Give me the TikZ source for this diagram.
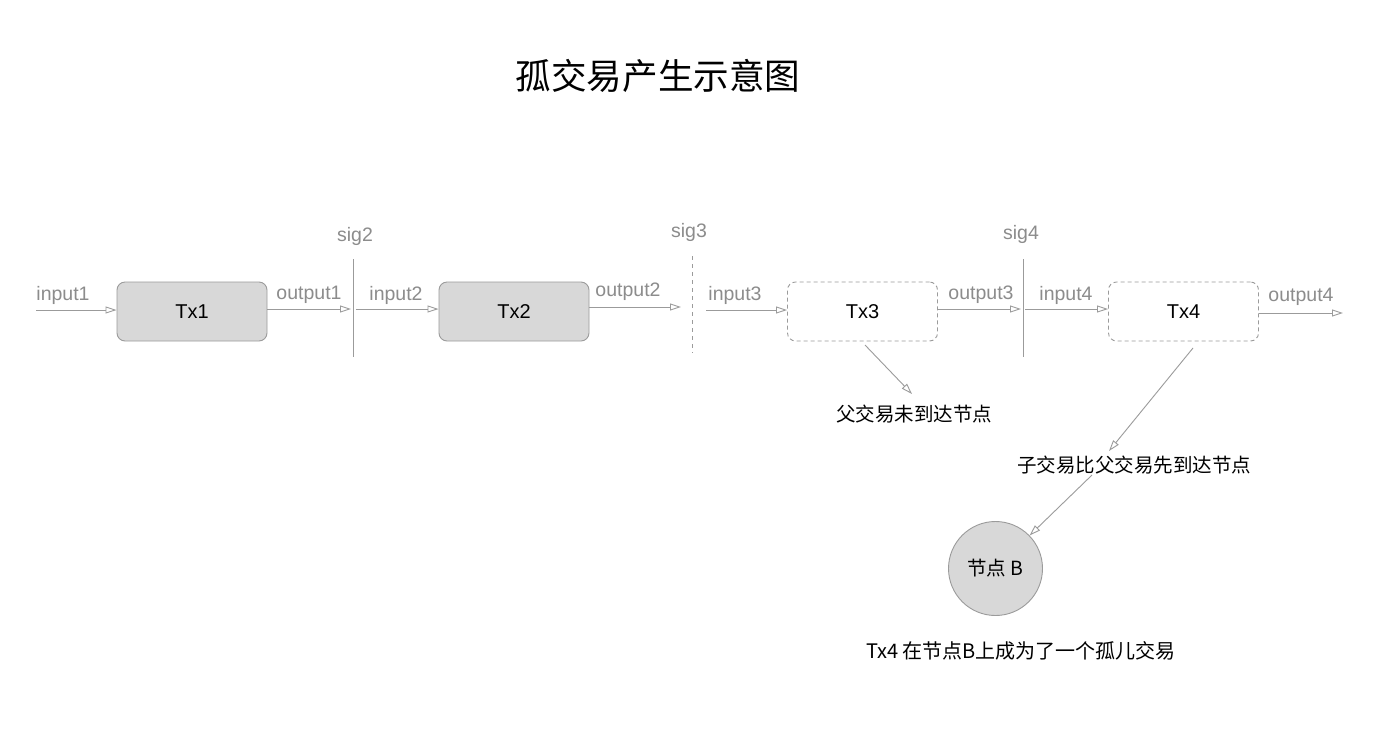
\documentclass[tikz,border=0pt]{standalone}
\usepackage{fontspec}
\setmainfont{Liberation Sans}
\newfontfamily\cjk{Noto Sans CJK SC}
\usetikzlibrary{arrows.meta}
\definecolor{linegray}{HTML}{9B9B9B}
\definecolor{textgray}{HTML}{8C8C8C}
\definecolor{boxfill}{HTML}{D8D8D8}
\begin{document}
\begin{tikzpicture}[x=1pt,y=-1pt,
  txbox/.style={draw=linegray, line width=0.9pt, rounded corners=8pt, minimum width=150pt, minimum height=59pt, inner sep=0pt, font=\fontsize{20}{24}\selectfont},
  solidbox/.style={txbox, fill=boxfill},
  dashbox/.style={txbox, fill=white, dash pattern=on 4pt off 3pt},
  lbl/.style={text=textgray, inner sep=0pt, font=\fontsize{19.5}{23}\selectfont},
  cjklbl/.style={text=black, inner sep=0pt, font=\cjk\fontsize{19.5}{23}\selectfont},
  arr/.style={draw=linegray, line width=0.9pt, -{Triangle[open, length=11pt, width=7pt]}},
  sigline/.style={draw=linegray, line width=0.9pt},
  sigdash/.style={sigline, dash pattern=on 4pt off 4pt}
]
\useasboundingbox (0,0) rectangle (1392,729);
\fill[white] (0,0) rectangle (1392,729);

% title
\node[inner sep=0pt, font=\cjk\fontsize{35.6}{40}\selectfont] (title) at (658,76) {孤交易产生示意图};

% transaction boxes
\node[solidbox] (tx1) at (192,311.5) {Tx1};
\node[solidbox] (tx2) at (514,311.5) {Tx2};
\node[dashbox] (tx3) at (862.5,311.5) {Tx3};
\node[dashbox] (tx4) at (1183.5,311.5) {Tx4};

% signature lines
\coordinate (sig2t) at (353,259); \coordinate (sig2b) at (353,357);
\coordinate (sig3t) at (692.5,256); \coordinate (sig3b) at (692.5,353);
\coordinate (sig4t) at (1023,259); \coordinate (sig4b) at (1023,357);
\draw[sigline] (sig2t) -- (sig2b);
\draw[sigdash] (sig3t) -- (sig3b);
\draw[sigline] (sig4t) -- (sig4b);
\node[lbl] (sig2) at (355,236) {sig2};
\node[lbl] (sig3) at (689,232) {sig3};
\node[lbl] (sig4) at (1021,234) {sig4};

% arrow end points
\coordinate (i1s) at (36,310);
\coordinate (o1e) at (351,309);
\coordinate (i2s) at (356,309);
\coordinate (o2e) at (681,307);
\coordinate (i3s) at (706,310);
\coordinate (o3e) at (1021,309);
\coordinate (i4s) at (1025,309);
\coordinate (o4e) at (1343,313);

\draw[arr] (i1s) -- (i1s -| tx1.west);
\draw[arr] (tx1.east |- o1e) -- (o1e);
\draw[arr] (i2s) -- (i2s -| tx2.west);
\draw[arr] (tx2.east |- o2e) -- (o2e);
\draw[arr] (i3s) -- (i3s -| tx3.west);
\draw[arr] (tx3.east |- o3e) -- (o3e);
\draw[arr] (i4s) -- (i4s -| tx4.west);
\draw[arr] (tx4.east |- o4e) -- (o4e);

% io labels
\node[lbl] (in1) at (63,295) {input1};
\node[lbl] (out1) at (309,295) {output1};
\node[lbl] (in2) at (396,295) {input2};
\node[lbl] (out2) at (628,292) {output2};
\node[lbl] (in3) at (735,295) {input3};
\node[lbl] (out3) at (981,295) {output3};
\node[lbl] (in4) at (1066,295) {input4};
\node[lbl] (out4) at (1301,297) {output4};

% annotations
\node[cjklbl] (note3) at (914,414) {父交易未到达节点};
\node[cjklbl] (note4) at (1134,465) {子交易比父交易先到达节点};
\node[circle, draw=linegray, line width=0.9pt, fill=boxfill, minimum size=94pt, inner sep=0pt, font=\cjk\fontsize{19.5}{23}\selectfont] (nodeB) at (995.5,568.5) {节点 B};
\node[cjklbl, font=\cjk\fontsize{20}{24}\selectfont] (final) at (1021,651) {Tx4 在节点B上成为了一个孤儿交易};

\coordinate (a3s) at (865,345); \coordinate (a3e) at (912,394);
\coordinate (a4s) at (1193,348); \coordinate (a4e) at (1109,451);
\coordinate (a5s) at (1092,475);
\draw[arr] (a3s) -- (a3e);
\draw[arr] (a4s) -- (a4e);
\draw[arr] (a5s) -- (nodeB);
\end{tikzpicture}
\end{document}
